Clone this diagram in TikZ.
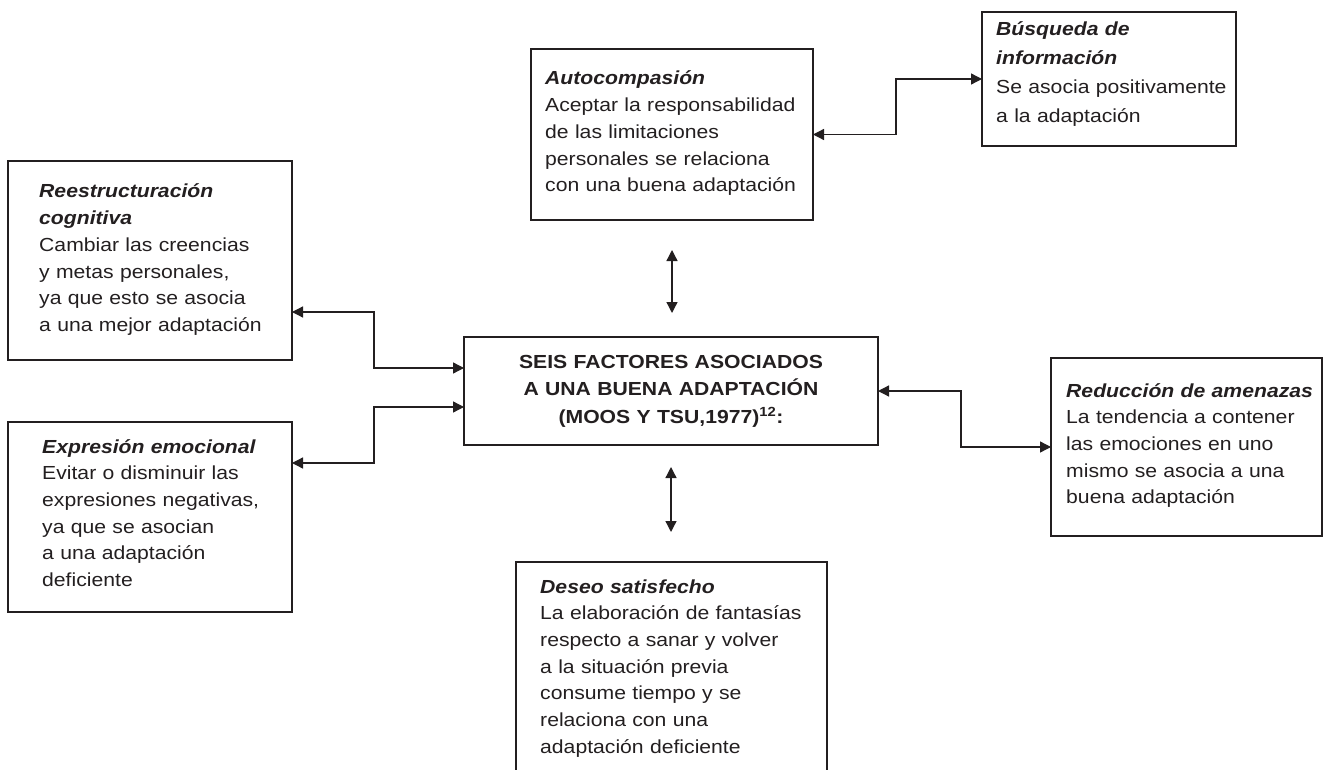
\documentclass[tikz,border=0pt]{standalone}
\usepackage{fontspec}
\setmainfont{Liberation Sans}[FakeStretch=1.12]
\usetikzlibrary{arrows.meta}
\definecolor{ink}{HTML}{231F20}
\tikzset{
  boxline/.style={draw=ink, line width=1.3pt},
  box/.style={boxline, inner sep=0pt, outer sep=0pt},
  frame/.style={inner sep=0pt, outer sep=0pt},
  txt/.style={anchor=base west, inner sep=0pt, text width=300pt, align=left, text=ink,
    font=\fontsize{18.9}{26.7}\selectfont},
  conn/.style={draw=ink, line width=1.3pt, {Triangle[length=11pt,width=11pt]}-{Triangle[length=11pt,width=11pt]}},
}
\newcommand{\ttl}[1]{\textbf{\textit{#1}}}
\begin{document}
\begin{tikzpicture}[x=1pt,y=-1pt]
\useasboundingbox (0,0) rectangle (1325,770);
% boxes
\node[box, minimum width=284, minimum height=199] (R) at (150,260.5) {};
\node[box, minimum width=284, minimum height=190] (E) at (150,517) {};
\node[box, minimum width=282, minimum height=171] (A) at (672,134.5) {};
\node[box, minimum width=254, minimum height=134] (B) at (1109,79) {};
\node[box, minimum width=271, minimum height=178] (Red) at (1186.5,447) {};
\node[box, minimum width=414, minimum height=108] (C) at (671,391) {};
\node[frame, minimum width=311, minimum height=208] (D) at (671.5,666) {};
\draw[boxline] (D.south west) |- (D.north east) -- (D.south east);
% texts
\node[txt] (Rt) at (39,198) {\ttl{Reestructuración}\\\ttl{cognitiva}\\Cambiar las creencias\\y metas personales,\\ya que esto se asocia\\a una mejor adaptación};
\node[txt] (Et) at (42,453) {\ttl{Expresión emocional}\\Evitar o disminuir las\\expresiones negativas,\\ya que se asocian\\a una adaptación\\deficiente};
\node[txt] (At) at (545,85) {\ttl{Autocompasión}\\Aceptar la responsabilidad\\de las limitaciones\\personales se relaciona\\con una buena adaptación};
\node[txt, font=\fontsize{18.9}{29}\selectfont] (Bt) at (996,36) {\ttl{Búsqueda de}\\\ttl{información}\\Se asocia positivamente\\a la adaptación};
\node[txt] (Redt) at (1066,397) {\ttl{Reducción de amenazas}\\La tendencia a contener\\las emociones en uno\\mismo se asocia a una\\buena adaptación};
\node[txt] (Dt) at (540,593) {\ttl{Deseo satisfecho}\\La elaboración de fantasías\\respecto a sanar y volver\\a la situación previa\\consume tiempo y se\\relaciona con una\\adaptación deficiente};
\node[anchor=base, inner sep=0pt, text width=414pt, align=center, text=ink, font=\fontsize{18.9}{27.5}\selectfont\bfseries] (Ct) at (671,368)
  {SEIS FACTORES ASOCIADOS\\A UNA BUENA ADAPTACIÓN\\(MOOS Y TSU,1977)\textsuperscript{12}:};
% connectors
\draw[conn] (A.east) -- ++(83,0) |- (B.west);
\draw[conn, shorten <=30pt, shorten >=24pt] (A.south) -- (A.south |- C.north);
\draw[conn, shorten <=22pt, shorten >=30pt] (C.south) -- (C.south |- D.north);
\draw[conn] ([yshift=23pt]C.west) -- ++(-90,0) |- ([yshift=-51.5pt]R.east);
\draw[conn] ([yshift=-16pt]C.west) -- ++(-90,0) |- ([yshift=54pt]E.east);
\draw[conn] (C.east) -- ++(83,0) |- (Red.west);
\end{tikzpicture}
\end{document}
